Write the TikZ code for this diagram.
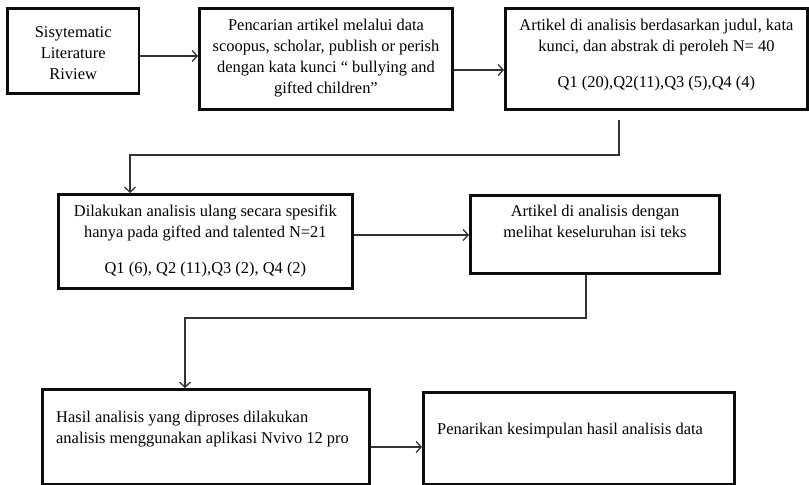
\documentclass[tikz,border=0pt]{standalone}
\usepackage{fontspec}
\setmainfont{Liberation Serif}
\usetikzlibrary{arrows.meta, positioning}
\definecolor{boxBlack}{gray}{0.05}
\definecolor{lineGray}{gray}{0.2}

\begin{document}
\begin{tikzpicture}[x=1bp, y=-1bp,
    box/.style={draw=boxBlack, line width=2.9bp, anchor=north west, inner sep=0pt},
    txt/.style={font=\fontsize{16.5}{21}\selectfont, inner sep=0pt},
    flow/.style={draw=lineGray, line width=1.3bp, -{Straight Barb[length=5bp, width=11bp]}}]
    \useasboundingbox (0,0) rectangle (809,485);

    % boxes
    \node[box, minimum width=132, minimum height=85] (b1) at (6,7) {};
    \node[box, minimum width=254, minimum height=101] (b2) at (198,7) {};
    \node[box, minimum width=303, minimum height=101] (b3) at (504,7) {};
    \node[box, minimum width=295, minimum height=94] (b4) at (57,193) {};
    \node[box, minimum width=250, minimum height=78] (b5) at (469,194) {};
    \node[box, minimum width=328, minimum height=95] (b6) at (41,388) {};
    \node[box, minimum width=312, minimum height=92] (b7) at (422,391) {};

    % texts
    \node[txt, align=center] (t1) at ([yshift=-2bp]b1.center) {Sisytematic\\Literature\\Riview};
    \node[txt, align=center, below=12bp of b2.north] (t2) {Pencarian artikel melalui data\\scoopus, scholar, publish or perish\\dengan kata kunci “ bullying and\\gifted children”};
    \node[txt, align=center, below=12bp of b3.north] (t3) {Artikel di analisis berdasarkan judul, kata\\kunci, dan abstrak di peroleh N= 40\\[15bp]Q1 (20),Q2(11),Q3 (5),Q4 (4)};
    \node[txt, align=center, below=12bp of b4.north] (t4) {Dilakukan analisis ulang secara spesifik\\hanya pada gifted and talented N=21\\[15bp]Q1 (6), Q2 (11),Q3 (2), Q4 (2)};
    \node[txt, align=center, below=11bp of b5.north] (t5) {Artikel di analisis dengan\\melihat keseluruhan isi teks};
    \node[txt, align=left, below right=23bp and 15bp of b6.north west] (t6) {Hasil analisis yang diproses dilakukan\\analisis menggunakan aplikasi Nvivo 12 pro};
    \node[txt, align=left, below right=32bp and 15bp of b7.north west] (t7) {Penarikan kesimpulan hasil analisis data};

    % connectors
    \coordinate (a1) at (0,56);
    \coordinate (a2) at (0,70);
    \coordinate (a3) at (0,235);
    \coordinate (a4) at (0,447);
    \coordinate (k1) at (619,120);
    \coordinate (k2) at (130,155);
    \coordinate (k3) at (586,318);
    \coordinate (k4) at (185,318);

    \draw[flow] (b1.east |- a1) -- (b2.west |- a1);
    \draw[flow] (b2.east |- a2) -- (b3.west |- a2);
    \draw[flow] (k1) |- (k2) -- (k2 |- b4.north);
    \draw[flow] (b4.east |- a3) -- (b5.west |- a3);
    \draw[flow] (b5.south -| k3) -- (k3) -- (k4) -- (k4 |- b6.north);
    \draw[flow] (b6.east |- a4) -- (b7.west |- a4);
\end{tikzpicture}
\end{document}
